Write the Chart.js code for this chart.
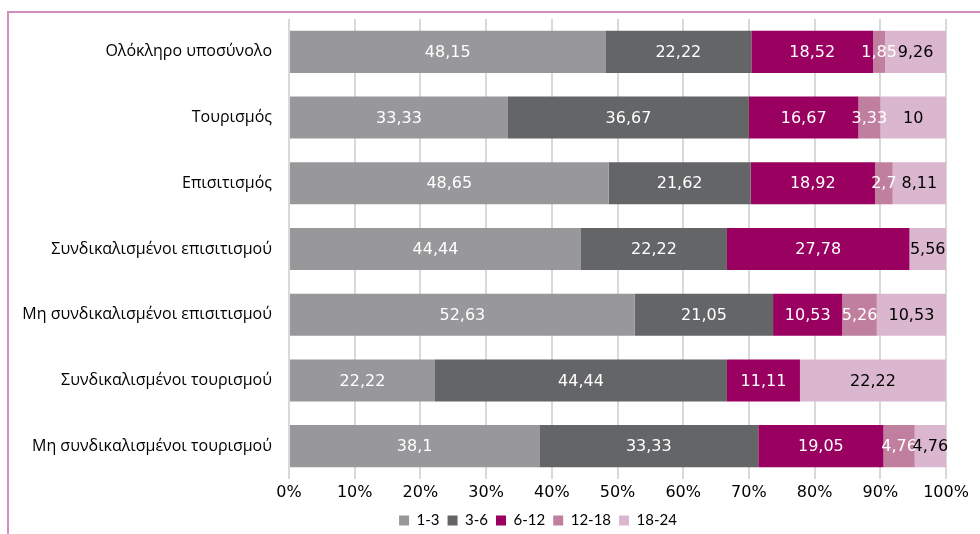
<!DOCTYPE html>
<html lang="el">
<head>
    <meta charset="UTF-8">
    <title>Διάρκεια ανά κατηγορία</title>
    <style>
        body {
            margin: 0;
            background-color: #fff;
            overflow: hidden;
        }

        #frame {
            position: absolute;
            left: 7px;
            top: 11px;
            width: 1100px;
            height: 700px;
            border: 2px solid #d18fba;
        }

        #chart-container {
            position: absolute;
            left: 0;
            top: 0;
            width: 980px;
            height: 534px;
        }
    </style>
</head>
<body>
    <div id="frame"></div>
    <div id="chart-container">
        <canvas id="bar-chart"></canvas>
    </div>

    <script src="https://cdn.jsdelivr.net/npm/chart.js"></script>

    <script>
        const categories = [
            "Ολόκληρο υποσύνολο",
            "Τουρισμός",
            "Επισιτισμός",
            "Συνδικαλισμένοι επισιτισμού",
            "Μη συνδικαλισμένοι επισιτισμού",
            "Συνδικαλισμένοι τουρισμού",
            "Μη συνδικαλισμένοι τουρισμού"
        ];

        const seriesNames = ["1-3", "3-6", "6-12", "12-18", "18-24"];

        const values1to3 = [48.15, 33.33, 48.65, 44.44, 52.63, 22.22, 38.1];
        const values3to6 = [22.22, 36.67, 21.62, 22.22, 21.05, 44.44, 33.33];
        const values6to12 = [18.52, 16.67, 18.92, 27.78, 10.53, 11.11, 19.05];
        const values12to18 = [1.85, 3.33, 2.7, 0, 5.26, 0, 4.76];
        const values18to24 = [9.26, 10, 8.11, 5.56, 10.53, 22.22, 4.76];

        const tickValues = [0, 10, 20, 30, 40, 50, 60, 70, 80, 90, 100];

        const colors = ['#98989b', '#646567', '#99005f', '#c07f9e', '#dbb7cf'];
        const labelColors = ['#fff', '#fff', '#fff', '#fff', '#000'];

        const numberFont = "'DejaVu Sans', sans-serif";
        const textFont = "'Open Sans', 'Noto Sans', sans-serif";

        const allValues = [values1to3, values3to6, values6to12, values12to18, values18to24];

        // draws the numbers inside each segment
        const segmentLabels = {
            id: 'segmentLabels',
            afterDatasetsDraw(chart) {
                const ctx = chart.ctx;
                ctx.save();
                ctx.font = "16px " + numberFont;
                ctx.textAlign = 'center';
                ctx.textBaseline = 'middle';
                chart.data.datasets.forEach((ds, i) => {
                    const meta = chart.getDatasetMeta(i);
                    meta.data.forEach((bar, j) => {
                        const v = ds.data[j];
                        if (!v) return;
                        ctx.fillStyle = labelColors[i];
                        ctx.fillText(String(v).replace('.', ','), (bar.x + bar.base) / 2, bar.y + 1);
                    });
                });
                ctx.restore();
            }
        };

        // legend sits a bit right of the canvas centre in the original
        const legendShift = {
            id: 'legendShift',
            afterLayout(chart) {
                const lg = chart.legend;
                lg.left += 65;
                lg.right += 65;
                lg.legendHitBoxes.forEach(b => { b.left += 65; });
            }
        };

        const ctx = document.getElementById('bar-chart').getContext('2d');
        new Chart(ctx, {
            type: 'bar',
            data: {
                labels: categories,
                datasets: seriesNames.map((name, i) => ({
                    label: name,
                    data: allValues[i],
                    backgroundColor: colors[i],
                    barPercentage: 0.64,
                    categoryPercentage: 1
                }))
            },
            options: {
                indexAxis: 'y',
                responsive: true,
                maintainAspectRatio: false,
                animation: false,
                layout: {
                    padding: { top: 19, right: 34, left: 0, bottom: -4 }
                },
                scales: {
                    x: {
                        stacked: true,
                        min: 0,
                        max: 100,
                        afterBuildTicks(scale) {
                            scale.ticks = tickValues.map(v => ({ value: v }));
                        },
                        afterFit(scale) {
                            scale.height = 26;
                        },
                        ticks: {
                            color: '#000',
                            font: { family: numberFont, size: 16 },
                            padding: 4,
                            callback: v => v + '%'
                        },
                        grid: {
                            color: '#d9d9d9',
                            lineWidth: 2,
                            tickLength: 0
                        },
                        border: { display: false }
                    },
                    y: {
                        stacked: true,
                        afterFit(scale) {
                            scale.width = 289;
                        },
                        ticks: {
                            color: '#000',
                            font: { family: textFont, size: 16 },
                            padding: 9
                        },
                        grid: { display: false },
                        border: { display: false }
                    }
                },
                plugins: {
                    legend: {
                        position: 'bottom',
                        labels: {
                            color: '#000',
                            font: { family: "Lato, sans-serif", size: 15 },
                            boxWidth: 10,
                            boxHeight: 10,
                            padding: 8
                        }
                    },
                    tooltip: { enabled: false }
                }
            },
            plugins: [segmentLabels, legendShift]
        });
    </script>
</body>
</html>
